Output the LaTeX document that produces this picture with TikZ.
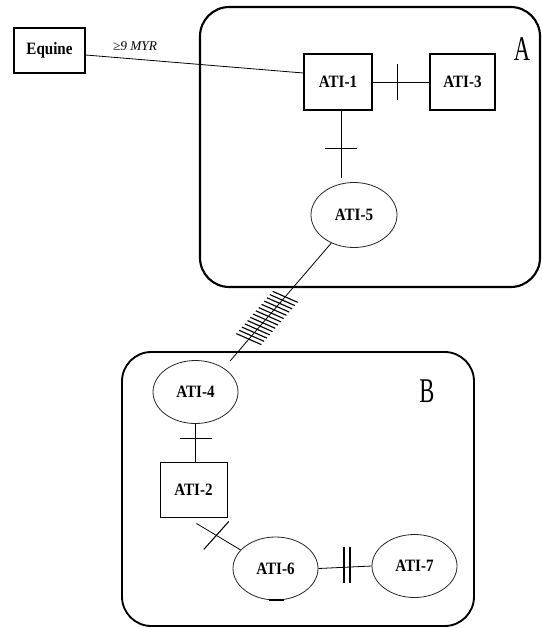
\documentclass[tikz,border=0pt]{standalone}
\usepackage{fontspec}
\setmainfont{Liberation Serif}
\usepackage{graphicx}
\usetikzlibrary{calc,shapes.geometric}
\newcommand{\cnd}[1]{\scalebox{0.87}[1]{#1}}
\newcommand{\bigcnd}[1]{\scalebox{0.65}[1]{#1}}
\begin{document}
\begin{tikzpicture}[x=0.75pt,y=-0.75pt,
  conn/.style={line width=0.6pt},
  tickmark/.style={line width=0.8pt},
  hatchmark/.style={line width=0.85pt},
  region/.style={line width=1.6pt, rounded corners=22pt},
  genebox/.style={draw, line width=1.1pt, inner sep=0pt, font=\fontsize{13}{13}\selectfont\bfseries},
  thinbox/.style={draw, line width=0.7pt, inner sep=0pt, font=\fontsize{13}{13}\selectfont\bfseries},
  geneell/.style={ellipse, draw=black!85, line width=0.6pt, inner sep=0pt, minimum width=63.75pt, minimum height=47.25pt, font=\fontsize{13}{13}\selectfont\bfseries},
  regionlabel/.style={inner sep=0pt, font=\fontsize{26}{26}\selectfont},
  edgelabel/.style={inner sep=0pt, font=\fontsize{10}{10}\selectfont\itshape}
]
\useasboundingbox (0,0) rectangle (542,628);

% regions
\draw[region] (200,7) rectangle (540,287);
\draw[region, line width=1.4pt] (122,352) rectangle (474,626);
\node[regionlabel] (labA) at (522,49) {\bigcnd{A}};
\node[regionlabel] (labB) at (427,391) {\bigcnd{B}};

% nodes
\node[genebox, minimum width=53.25pt, minimum height=33.75pt] (Equine) at (49.5,50.5) {\cnd{Equine}};
\node[genebox, minimum width=51pt, minimum height=42pt] (ATI1) at (338,82) {\cnd{ATI-1}};
\node[genebox, minimum width=48.75pt, minimum height=42pt] (ATI3) at (462.5,82) {\cnd{ATI-3}};
\node[geneell, minimum width=64.5pt, minimum height=48.75pt] (ATI5) at (354,215) {\cnd{ATI-5}};
\node[geneell] (ATI4) at (195.5,392) {\cnd{ATI-4}};
\node[thinbox, minimum width=50.25pt, minimum height=41.25pt] (ATI2) at (193.5,489.5) {\cnd{ATI-2}};
\node[geneell] (ATI6) at (275.5,568.5) {\cnd{ATI-6}};
\node[geneell] (ATI7) at (414.5,566) {\cnd{ATI-7}};

% Equine -- ATI-1
\draw[conn] ($(Equine.east)+(0,4.5)$) -- ($(ATI1.west)+(0,-9)$);
\node[edgelabel] (myr) at (135,46) {≥9 MYR};

% ATI-1 -- ATI-3
\draw[conn] (ATI1.east) -- (ATI3.west);
\coordinate (t13) at ($(ATI1.east)!0.43!(ATI3.west)$);
\draw[tickmark] ($(t13)+(0,-18)$) -- ($(t13)+(0,18)$);

% ATI-1 -- ATI-5
\draw[conn] ($(ATI1.south)+(3,0)$) -- ($(ATI1.south |- ATI5.north)+(3,-4)$);
\coordinate (t15) at ($(ATI1.south)+(3,38)$);
\draw[tickmark] ($(t15)+(-16,0)$) -- ($(t15)+(16,0)$);

% ATI-5 -- ATI-4 with hatching
\draw[conn, shorten >=7pt] (ATI5.231) -- (ATI4.40);
\foreach \t in {0.43,0.456,0.482,0.508,0.534,0.56,0.586,0.612,0.638,0.664,0.69,0.716,0.742,0.768}
  \draw[hatchmark] ($(ATI5.231)!\t!(ATI4.40)$) ++(-12.5,-5.5) -- ++(25,11);

% ATI-4 -- ATI-2
\draw[conn] (ATI4.south) -- (ATI4.south |- ATI2.north);
\coordinate (t42) at ($(ATI4.south)+(0,15)$);
\draw[tickmark] ($(t42)+(-16,0)$) -- ($(t42)+(16,0)$);

% ATI-2 -- ATI-6
\coordinate (s26) at ($(ATI2.south)+(3,6)$);
\draw[conn] (s26) -- (ATI6.152);
\coordinate (t26) at ($(s26)!0.45!(ATI6.152)$);
\draw[tickmark] ($(t26)+(12.5,-14)$) -- ($(t26)+(-12.5,14)$);

% ATI-6 -- ATI-7
\draw[conn] (ATI6.east) -- (ATI7.west);
\draw[tickmark] (344,547) -- (344,583);
\draw[tickmark] (350,547) -- (350,583);

% small mark below ATI-6
\draw[line width=1.5pt] ($(ATI6.south)+(-7,0)$) -- ($(ATI6.south)+(8,0)$);
\end{tikzpicture}
\end{document}
